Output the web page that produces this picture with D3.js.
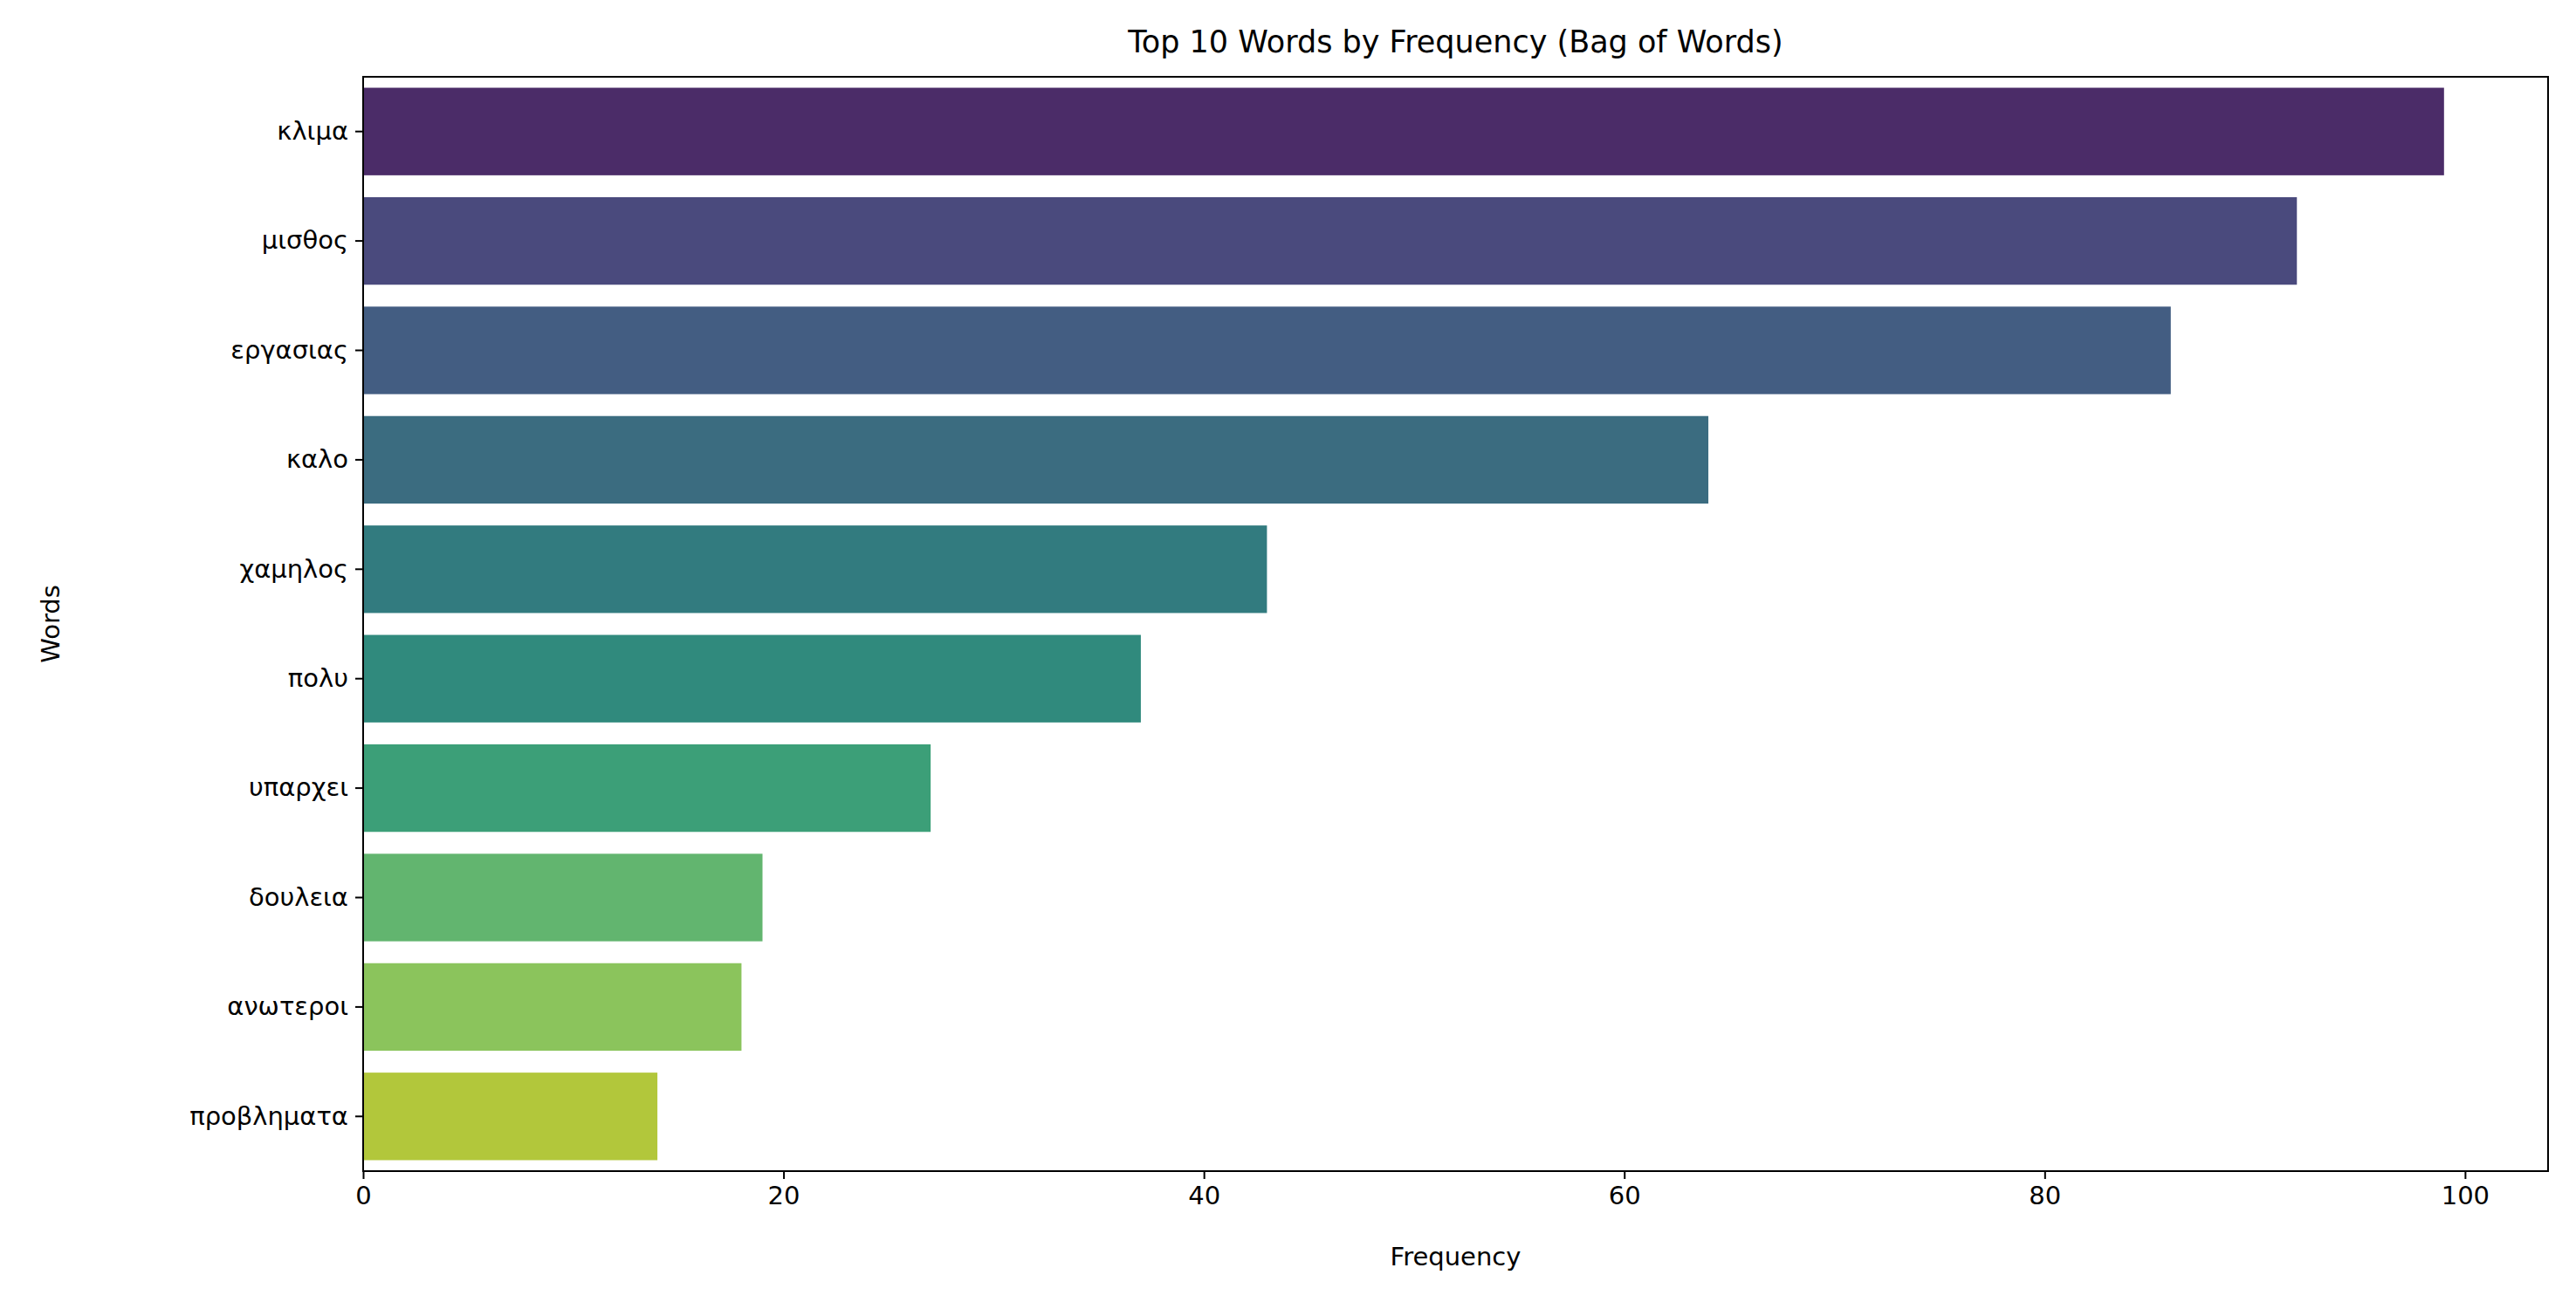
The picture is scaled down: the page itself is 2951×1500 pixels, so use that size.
<!DOCTYPE html>
<html><head><meta charset="utf-8">
<script src="https://cdn.jsdelivr.net/npm/d3@7"></script>
<style>body{margin:0;background:#fff}</style></head>
<body><svg id="c" width="2951" height="1500"></svg>
<script>
const words = ["κλιμα","μισθος","εργασιας","καλο","χαμηλος","πολυ","υπαρχει","δουλεια","ανωτεροι","προβληματα"];
const freqs = [99,92,86,64,43,37,27,19,18,14];
const colors = ["#4b2c68","#4a4a7d","#435d82","#3b6c80","#327b7f","#308a7d","#3c9f78","#62b56f","#8bc45c","#b2c73b"];
const xTicks = [0,20,40,60,80,100];

const m = {l:416, r:2919, t:88, b:1342};
const svg = d3.select("#c");
const font = "DejaVu Sans";
const x = d3.scaleLinear().domain([0, 99*1.05]).range([m.l, m.r]);
const y = d3.scaleBand().domain(words).range([m.t, m.b]).paddingInner(0.2).paddingOuter(0.1);

svg.selectAll("rect.bar").data(words).enter().append("rect")
  .attr("x", x(0)).attr("y", d=>y(d)).attr("height", y.bandwidth())
  .attr("width", (d,i)=>x(freqs[i])-x(0)).attr("fill",(d,i)=>colors[i]);

const ax = svg.append("g").attr("transform",`translate(0,${m.b})`)
  .call(d3.axisBottom(x).tickValues(xTicks).tickSize(9).tickPadding(8));
const ay = svg.append("g").attr("transform",`translate(${m.l},0)`)
  .call(d3.axisLeft(y).tickSize(9).tickPadding(8));
[ax,ay].forEach(g=>{g.select(".domain").remove();
  g.selectAll("text").attr("font-family",font).attr("font-size",29).attr("fill","#000");
  g.selectAll("line").attr("stroke","#000").attr("stroke-width",2);});
svg.append("rect").attr("x",m.l).attr("y",m.t).attr("width",m.r-m.l).attr("height",m.b-m.t)
  .attr("fill","none").attr("stroke","#000").attr("stroke-width",2);

svg.append("text").attr("x",(m.l+m.r)/2).attr("y",60).attr("text-anchor","middle")
  .attr("font-family",font).attr("font-size",35).text("Top 10 Words by Frequency (Bag of Words)");
svg.append("text").attr("x",(m.l+m.r)/2).attr("y",1450).attr("text-anchor","middle")
  .attr("font-family",font).attr("font-size",29).text("Frequency");
svg.append("text").attr("transform",`translate(68,${(m.t+m.b)/2}) rotate(-90)`).attr("text-anchor","middle")
  .attr("font-family",font).attr("font-size",29).text("Words");
</script></body></html>
